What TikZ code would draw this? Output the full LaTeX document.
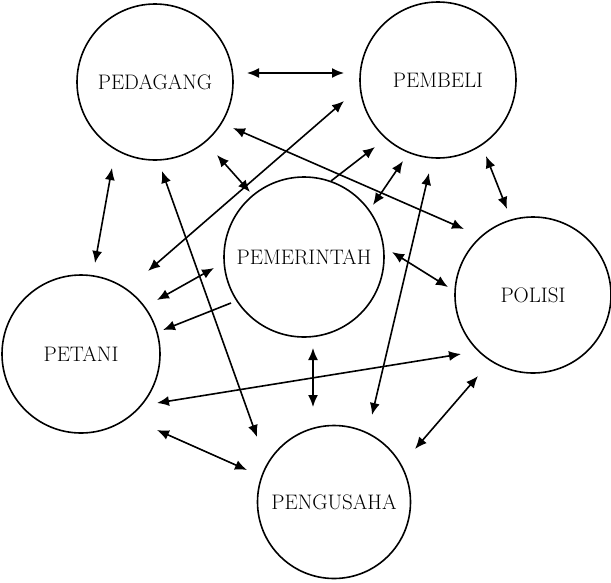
\documentclass[tikz,border=0pt]{standalone}
\usepackage{fontspec}
\usetikzlibrary{arrows.meta}
\begin{document}
\begin{tikzpicture}[x=1pt,y=-1pt,
  actor/.style={draw,circle,line width=1.6pt,minimum size=156pt,inner sep=0pt,
    font=\fontsize{21}{24}\selectfont},
  rel/.style={line width=1.6pt,{Latex[length=12pt,width=10pt]}-{Latex[length=12pt,width=10pt]}},
  onerel/.style={line width=1.6pt,-{Latex[length=12pt,width=10pt]}}]
\useasboundingbox (0,0) rectangle (611,582);
\node[actor] (ped) at (155,82) {PEDAGANG};
\node[actor] (pem) at (438,80) {PEMBELI};
\node[actor,minimum size=160pt] (pmr) at (304,257) {PEMERINTAH};
\node[actor] (pol) at (533,295) {POLISI};
\node[actor,minimum size=158pt] (pet) at (81,354) {PETANI};
\node[actor,minimum size=153pt] (pgs) at (334,502) {PENGUSAHA};
% endpoints
\coordinate (a1) at (247,73); \coordinate (a2) at (344,73);
\coordinate (b1) at (148,271); \coordinate (b2) at (344,101);
\coordinate (c1) at (233,128); \coordinate (c2) at (464,229);
\coordinate (d1) at (217,155); \coordinate (d2) at (250,192);
\coordinate (e1) at (331,181); \coordinate (e2) at (375,147);
\coordinate (f1) at (373,205); \coordinate (f2) at (403,161);
\coordinate (g1) at (486,156); \coordinate (g2) at (507,209);
\coordinate (h1) at (112,168); \coordinate (h2) at (95,263);
\coordinate (i1) at (162,171); \coordinate (i2) at (257,437);
\coordinate (j1) at (429,173); \coordinate (j2) at (372,415);
\coordinate (k1) at (392,252); \coordinate (k2) at (448,287);
\coordinate (l1) at (157,300); \coordinate (l2) at (214,268);
\coordinate (m1) at (231,303); \coordinate (m2) at (163,330);
\coordinate (n1) at (313,348); \coordinate (n2) at (313,407);
\coordinate (o1) at (157,403); \coordinate (o2) at (461,354);
\coordinate (p1) at (157,430); \coordinate (p2) at (247,470);
\coordinate (q1) at (478,376); \coordinate (q2) at (415,449);
\draw[rel] (a1) -- (a2);
\draw[rel] (b1) -- (b2);
\draw[rel] (c1) -- (c2);
\draw[rel] (d1) -- (d2);
\draw[onerel] (e1) -- (e2);
\draw[rel] (f1) -- (f2);
\draw[rel] (g1) -- (g2);
\draw[rel] (h1) -- (h2);
\draw[rel] (i1) -- (i2);
\draw[rel] (j1) -- (j2);
\draw[rel] (k1) -- (k2);
\draw[rel] (l1) -- (l2);
\draw[onerel] (m1) -- (m2);
\draw[rel] (n1) -- (n2);
\draw[rel] (o1) -- (o2);
\draw[rel] (p1) -- (p2);
\draw[rel] (q1) -- (q2);
\end{tikzpicture}
\end{document}
